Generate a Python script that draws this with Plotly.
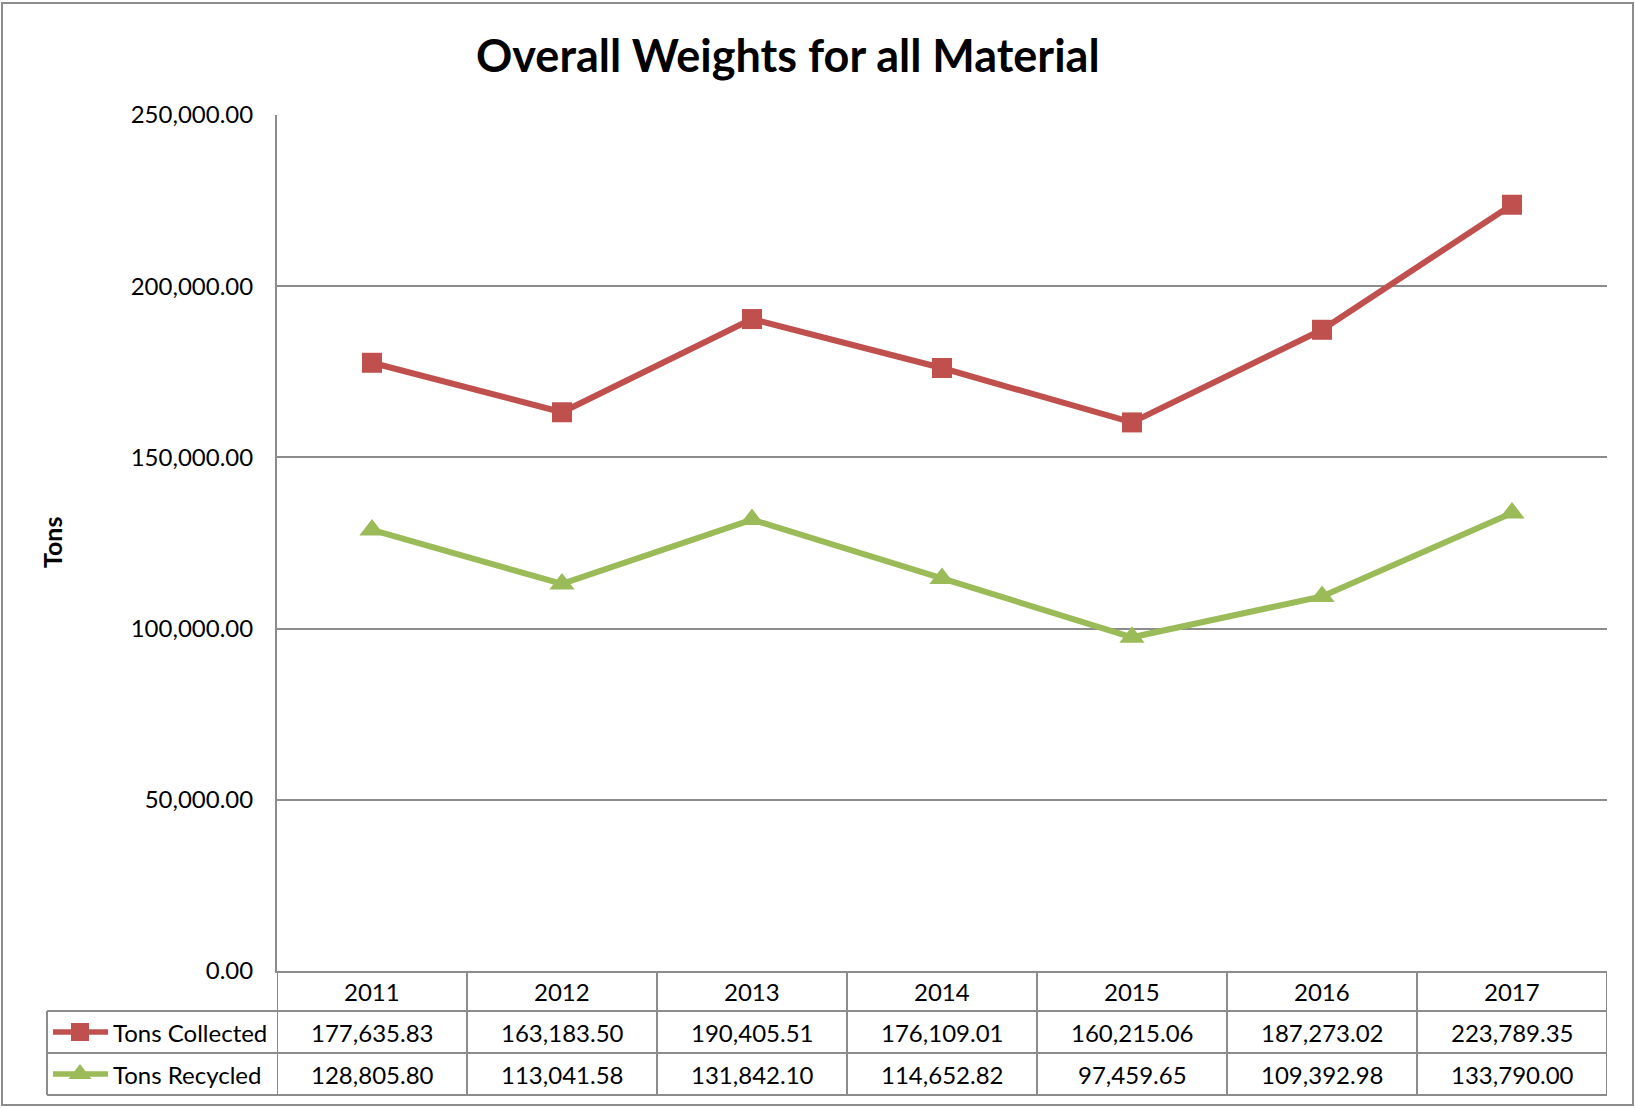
import plotly.graph_objects as go

# ---- data ----
years = ["2011", "2012", "2013", "2014", "2015", "2016", "2017"]
tons_collected = [177635.83, 163183.50, 190405.51, 176109.01, 160215.06, 187273.02, 223789.35]
tons_recycled = [128805.80, 113041.58, 131842.10, 114652.82, 97459.65, 109392.98, 133790.00]
series_names = ["Tons Collected", "Tons Recycled"]
y_ticks = [0, 50000, 100000, 150000, 200000, 250000]

# ---- layout helpers (pixel -> paper) ----
W, H = 1635, 1108
def X(px):
    return px / W
def Y(py):
    return 1 - py / H

RED = "#C0504D"
GREEN = "#9BBB59"
GRID = "#8C8C8C"
FONT = "Lato"
FS = 24

PL, PR, PT, PB = 277, 1607, 115, 971      # plot area
ROW = [971, 1011, 1053, 1095]               # table row boundaries
LEG_L = 47

fig = go.Figure()

fig.add_trace(go.Scatter(
    x=list(range(len(years))), y=tons_collected, name=series_names[0], mode="lines+markers",
    line=dict(color=RED, width=6),
    marker=dict(symbol="square", size=20, color=RED),
    showlegend=False, xaxis="x", yaxis="y"))
fig.add_trace(go.Scatter(
    x=list(range(len(years))), y=tons_recycled, name=series_names[1], mode="lines+markers",
    line=dict(color=GREEN, width=6),
    marker=dict(symbol="triangle-up", size=22, color=GREEN),
    showlegend=False, xaxis="x", yaxis="y"))

# legend keys in table's first column (own small axes)
for row_c, color, sym, sz in [(1.5, RED, "square", 18), (0.5, GREEN, "triangle-up", 20)]:
    fig.add_trace(go.Scatter(x=[6, 61], y=[row_c, row_c], mode="lines",
                             line=dict(color=color, width=5.5), showlegend=False,
                             hoverinfo="skip", xaxis="x2", yaxis="y2"))
    fig.add_trace(go.Scatter(x=[33], y=[row_c], mode="markers",
                             marker=dict(symbol=sym, size=sz, color=color), showlegend=False,
                             hoverinfo="skip", xaxis="x2", yaxis="y2"))

shapes = []
# outer chart border
shapes.append(dict(type="rect", xref="paper", yref="paper", x0=X(2), x1=X(1633), y0=Y(1105), y1=Y(3),
                   line=dict(color=GRID, width=2)))
# table horizontal lines
for py in ROW[1:]:
    shapes.append(dict(type="line", xref="paper", yref="paper", x0=X(LEG_L), x1=X(PR), y0=Y(py), y1=Y(py),
                       line=dict(color=GRID, width=2)))
# legend column left border
shapes.append(dict(type="line", xref="paper", yref="paper", x0=X(LEG_L), x1=X(LEG_L), y0=Y(ROW[1]), y1=Y(ROW[3]),
                   line=dict(color=GRID, width=2)))
# column dividers
for i in range(len(years) + 1):
    shapes.append(dict(type="line", xref="x", yref="paper", x0=i - 0.5, x1=i - 0.5, y0=Y(ROW[0]), y1=Y(ROW[3]),
                       line=dict(color=GRID, width=2)))

annotations = []
# title
annotations.append(dict(text="<b>Overall Weights for all Material</b>", xref="paper", yref="paper",
                        x=X(788), y=Y(55), showarrow=False, xanchor="center", yanchor="middle",
                        font=dict(family=FONT, size=45, color="black")))
# y-axis title
annotations.append(dict(text="<b>Tons</b>", xref="paper", yref="paper", x=X(52), y=Y(542),
                        showarrow=False, textangle=-90, xanchor="center", yanchor="middle",
                        font=dict(family=FONT, size=25, color="black")))
row_centers = [(ROW[0] + ROW[1]) / 2, (ROW[1] + ROW[2]) / 2, (ROW[2] + ROW[3]) / 2]
for i, yr in enumerate(years):
    cx = X(PL + (i + 0.5) * (PR - PL) / len(years))
    annotations.append(dict(text=yr, xref="paper", yref="paper", x=cx,
                            y=Y(row_centers[0]), showarrow=False,
                            xanchor="center", yanchor="middle", font=dict(family=FONT, size=FS, color="black")))
    annotations.append(dict(text=f"{tons_collected[i]:,.2f}", xref="paper", yref="paper",
                            x=cx, y=Y(row_centers[1]),
                            showarrow=False, xanchor="center", yanchor="middle",
                            font=dict(family=FONT, size=FS, color="black")))
    annotations.append(dict(text=f"{tons_recycled[i]:,.2f}", xref="paper", yref="paper",
                            x=cx, y=Y(row_centers[2]),
                            showarrow=False, xanchor="center", yanchor="middle",
                            font=dict(family=FONT, size=FS, color="black")))
for name, rc in zip(series_names, row_centers[1:]):
    annotations.append(dict(text=name, xref="paper", yref="paper", x=X(111), y=Y(rc), showarrow=False,
                            xanchor="left", yanchor="middle", font=dict(family=FONT, size=FS, color="black")))

fig.update_layout(
    width=W, height=H,
    margin=dict(l=0, r=0, t=0, b=0, pad=0, autoexpand=False),
    paper_bgcolor="white", plot_bgcolor="white",
    font=dict(family=FONT, color="black"),
    showlegend=False,
    xaxis=dict(domain=[X(PL), X(PR)], range=[-0.5, len(years) - 0.5], automargin=False,
               showgrid=False, showticklabels=False, ticks="", zeroline=False,
               showline=True, linecolor=GRID, linewidth=2, fixedrange=True),
    yaxis=dict(domain=[Y(PB), Y(PT)], range=[0, 250000], tickvals=y_ticks, tickformat=",.2f",
               automargin=False,
               showgrid=True, gridcolor=GRID, gridwidth=1.5, zeroline=False,
               showline=True, linecolor=GRID, linewidth=2,
               ticks="outside", ticklen=17, tickcolor="rgba(0,0,0,0)",
               tickfont=dict(family=FONT, size=FS, color="black"), fixedrange=True),
    xaxis2=dict(domain=[X(LEG_L), X(PL)], range=[0, PL - LEG_L], visible=False, fixedrange=True,
                automargin=False),
    yaxis2=dict(domain=[Y(ROW[3]), Y(ROW[1])], range=[0, 2], visible=False, fixedrange=True,
                automargin=False),
    shapes=shapes,
    annotations=annotations,
)

fig.write_html("out.html", config={"displayModeBar": False},
               post_script="document.body.style.margin='0';document.body.style.overflow='hidden';")
